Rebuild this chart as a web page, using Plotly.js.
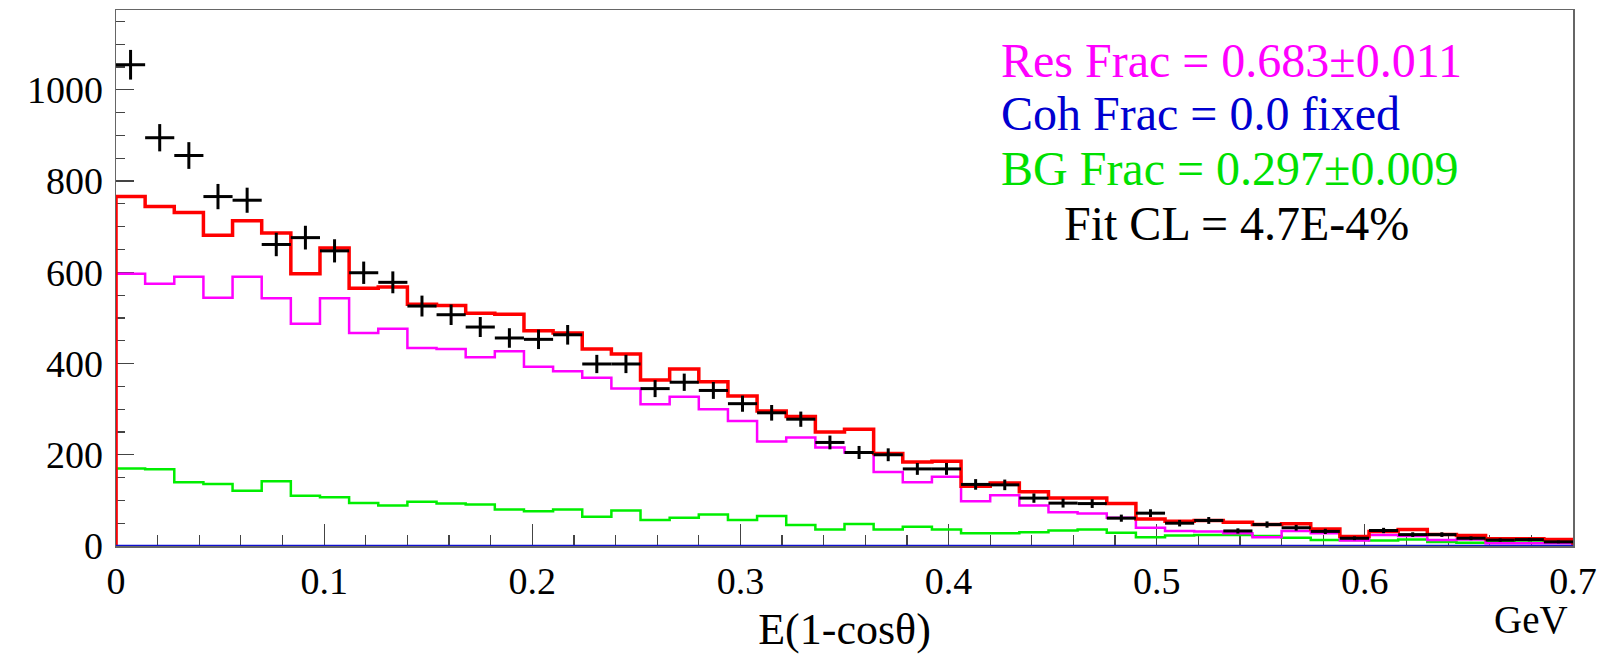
<!DOCTYPE html>
<html>
<head>
<meta charset="utf-8">
<script src="https://cdn.plot.ly/plotly-3.0.1.min.js"></script>
<style>html,body{margin:0;padding:0;background:#fff;}#chart{width:1611px;height:654px;}</style>
</head>
<body>
<div id="chart"></div>
<script>
// Histogram binning: 50 bins of width 0.014 GeV from 0 to 0.7
const binWidth = 0.014;
const nBins = 50;

// Data (black crosses): counts per bin
const dataCounts = [1055, 895, 856, 766, 758, 661, 676, 647, 599, 578,
  526, 507, 480, 456, 453, 463, 399, 399, 345, 359,
  341, 312, 292, 278, 227, 205, 200, 169, 169, 135,
  134, 105, 94, 93, 61, 72, 50, 56, 33, 47,
  40, 32, 17, 34, 25, 25, 17, 13, 14, 9];
// Data vertical error bars
const dataErr = [32.5, 29.9, 29.3, 27.7, 27.5, 25.7, 26.0, 25.4, 24.5, 24.0,
  22.9, 22.5, 21.9, 21.4, 21.3, 21.5, 20.0, 20.0, 18.6, 18.9,
  18.5, 17.7, 17.1, 16.7, 15.1, 14.3, 14.1, 13.0, 13.0, 11.6,
  11.6, 10.2, 9.7, 9.6, 7.8, 8.5, 7.1, 7.5, 5.7, 6.9,
  6.3, 5.7, 4.1, 5.8, 5.0, 5.0, 4.1, 3.6, 3.7, 3.0];
// Total fit (red)
const totalFit = [766, 744, 731, 681, 713, 686, 597, 653, 565, 568,
  530, 527, 510, 508, 472, 467, 432, 421, 364, 388,
  360, 329, 296, 284, 250, 256, 203, 184, 186, 131,
  138, 119, 105, 105, 93, 59, 54, 56, 52, 47,
  49, 37, 21, 32, 36, 25, 23, 16, 16, 14];
// Resonant component (magenta)
const resComp = [597, 575, 590, 544, 590, 543, 487, 543, 467, 476,
  434, 432, 414, 427, 393, 383, 369, 345, 311, 327,
  300, 274, 229, 238, 216, 205, 162, 140, 152, 98,
  111, 89, 74, 71, 62, 40, 33, 32, 28, 19,
  33, 28, 12, 24, 22, 13, 14, 6, 6, 6];
// Coherent component (blue) - fixed at 0
const cohComp = [0, 0, 0, 0, 0, 0, 0, 0, 0, 0,
  0, 0, 0, 0, 0, 0, 0, 0, 0, 0,
  0, 0, 0, 0, 0, 0, 0, 0, 0, 0,
  0, 0, 0, 0, 0, 0, 0, 0, 0, 0,
  0, 0, 0, 0, 0, 0, 0, 0, 0, 0];
// Background component (green)
const bgComp = [170, 168, 140, 136, 121, 142, 110, 107, 94, 89,
  97, 93, 91, 80, 76, 80, 64, 78, 57, 62,
  69, 57, 66, 46, 36, 48, 36, 42, 36, 28,
  28, 30, 34, 36, 29, 19, 23, 24, 24, 22,
  18, 13, 13, 12, 14, 9, 7, 9, 12, 9];

const xTickVals = [0, 0.1, 0.2, 0.3, 0.4, 0.5, 0.6, 0.7];
const xTickText = ['0', '0.1', '0.2', '0.3', '0.4', '0.5', '0.6', '0.7'];
const yTickVals = [0, 200, 400, 600, 800, 1000];
const yTickText = ['0', '200', '400', '600', '800', '1000'];

const fitLines = [
  {text: 'Res Frac = 0.683\u00B10.011', color: '#ff00ff'},
  {text: 'Coh Frac = 0.0 fixed', color: '#0000d0'},
  {text: 'BG Frac = 0.297\u00B10.009', color: '#00e000'},
  {text: 'Fit CL = 4.7E-4%', color: '#000000'}
];

function stepXY(vals) {
  const xs = [0], ys = [0];
  for (let i = 0; i < vals.length; i++) {
    xs.push(i * binWidth); ys.push(vals[i]);
  }
  const end = vals.length * binWidth;
  xs.push(end); ys.push(vals[vals.length - 1]);
  xs.push(end); ys.push(0);
  return {xs, ys};
}

function stepTrace(vals, color, width, name) {
  const s = stepXY(vals);
  return {x: s.xs, y: s.ys, type: 'scatter', mode: 'lines', name: name,
    line: {shape: 'hv', color: color, width: width}, cliponaxis: false, hoverinfo: 'skip'};
}

const centers = dataCounts.map((_, i) => (i + 0.5) * binWidth);

const traces = [
  stepTrace(bgComp, '#00ee00', 2.5, 'BG'),
  stepTrace(resComp, '#ff00ff', 2.5, 'Res'),
  stepTrace(totalFit, '#ff0000', 3.5, 'Total'),
  stepTrace(cohComp, '#1010d0', 2.5, 'Coh'),
  {x: centers, y: dataCounts, type: 'scatter', mode: 'markers', name: 'Data',
    marker: {size: 1, color: '#000'}, cliponaxis: false,
    error_y: {type: 'data', array: dataErr, visible: true, color: '#000', thickness: 3, width: 0},
    error_x: {type: 'constant', value: binWidth / 2, visible: true, color: '#000', thickness: 3, width: 0}}
];

const serif = 'Liberation Serif, Times New Roman, serif';

const annotations = fitLines.map((l, i) => ({
  xref: 'paper', yref: 'paper',
  x: i === 3 ? 0.649 : 0.606, y: [0.905, 0.806, 0.705, 0.602][i],
  xanchor: 'left', yanchor: 'middle', showarrow: false,
  text: l.text, font: {family: serif, size: 48, color: l.color}
}));
annotations.push({xref: 'paper', yref: 'paper', x: 0.998, y: -0.138,
  xanchor: 'right', yanchor: 'middle', showarrow: false,
  text: 'GeV', font: {family: serif, size: 39, color: '#000'}});

const layout = {
  width: 1611, height: 654,
  margin: {l: 116, r: 38, t: 10, b: 108},
  paper_bgcolor: '#fff', plot_bgcolor: '#fff',
  showlegend: false,
  font: {family: serif, color: '#000'},
  xaxis: {
    range: [0, 0.7], tickvals: xTickVals, ticktext: xTickText,
    ticks: 'inside', ticklen: 22, tickwidth: 1.2, tickcolor: '#444',
    minor: {dtick: 0.02, tick0: 0, ticks: 'inside', ticklen: 11, tickwidth: 1.2, tickcolor: '#444'},
    showline: true, linecolor: '#666', linewidth: 1.5, mirror: true,
    showgrid: false, zeroline: false, layer: 'below traces',
    ticklabelstandoff: 1,
    tickfont: {family: serif, size: 38, color: '#000'},
    title: {text: 'E(1-cos\u03B8)', font: {family: serif, size: 44, color: '#000'}, standoff: 21}
  },
  yaxis: {
    range: [0, 1175], tickvals: yTickVals, ticktext: yTickText,
    ticks: 'inside', ticklen: 18, tickwidth: 1.2, tickcolor: '#444',
    minor: {dtick: 50, tick0: 0, ticks: 'inside', ticklen: 9, tickwidth: 1.2, tickcolor: '#444'},
    showline: true, linecolor: '#666', linewidth: 1.5, mirror: true,
    showgrid: false, zeroline: false, layer: 'below traces',
    ticklabelstandoff: 4,
    tickfont: {family: serif, size: 38, color: '#000'}
  },
  annotations: annotations
};

Plotly.newPlot('chart', traces, layout, {displayModeBar: false, staticPlot: true});
</script>
</body>
</html>
